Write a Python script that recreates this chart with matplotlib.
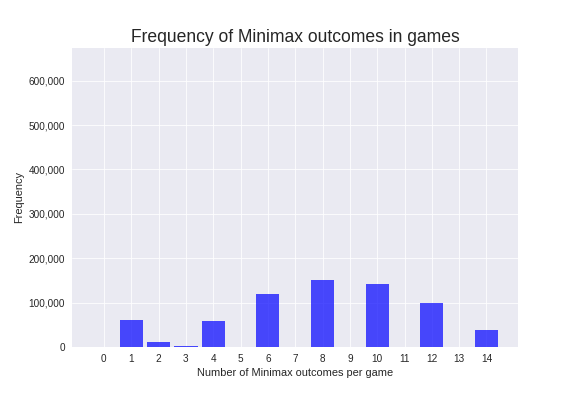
import numpy as np
import matplotlib
matplotlib.use('Agg')
import matplotlib.pyplot as plt
from matplotlib.ticker import FuncFormatter

outcomes = list(range(15))
freqs = [0, 61000, 11000, 2000, 58000, 0, 119000, 0, 150500, 0, 141500, 0, 99000, 0, 38000]

plt.style.use('seaborn-v0_8-darkgrid')
plt.rcParams['font.family'] = ['Liberation Sans', 'DejaVu Sans']

fig, ax = plt.subplots(figsize=(8, 5.5), dpi=72)
fig.subplots_adjust(left=0.125, right=0.9, top=0.88, bottom=0.124)

ax.bar(outcomes, freqs, width=0.85, color='blue', alpha=0.7)
ax.set_xticks(outcomes)
ax.set_ylim(0, 675000)
ax.yaxis.set_major_formatter(FuncFormatter(lambda v, p: f'{int(v):,}'))
ax.tick_params(labelsize=10, pad=7)

ax.set_xlabel('Number of Minimax outcomes per game', fontsize=11)
ax.set_ylabel('Frequency', fontsize=11)
ax.set_title('Frequency of Minimax outcomes in games', fontsize=17.5)

fig.savefig('out.png', dpi=72)
